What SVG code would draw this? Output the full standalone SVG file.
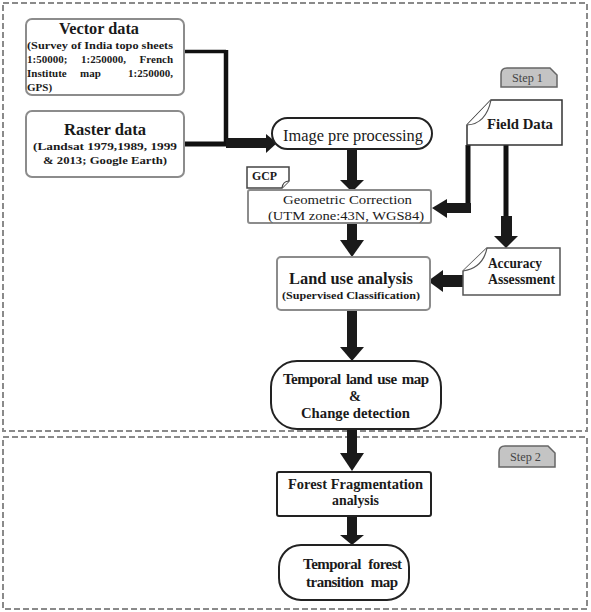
<svg xmlns="http://www.w3.org/2000/svg" width="591" height="612" viewBox="0 0 591 612">
<style>
text{font-family:"Liberation Serif","Times New Roman","DejaVu Serif",serif;fill:#1a1a1a}
.b{font-weight:bold}
.frame{fill:none;stroke:#8a8a8a;stroke-width:2;stroke-dasharray:6 3}
.gbox{fill:#fff;stroke:#8c8c8c;stroke-width:2}
.kbox{fill:#fff;stroke:#222;stroke-width:2}
.line{fill:none;stroke:#111}
.head{fill:#1a1a1a}
.tag{fill:#c4c4c4;stroke:#666;stroke-width:1.5}
.tagt{font-size:13px;fill:#444}
.s{font-size:11px;font-weight:bold}
</style>

<g id="frames">
  <rect class="frame" x="3" y="3" width="584" height="428"/>
  <rect class="frame" x="3" y="437" width="584" height="172"/>
</g>

<g id="step1">
  <path class="tag" d="M501,87 L501,74 Q501,68 507,68 L550,68 L557,75 L557,87 Z"/>
  <text class="tagt" x="512" y="82" textLength="31" lengthAdjust="spacingAndGlyphs">Step 1</text>
</g>
<g id="step2">
  <path class="tag" d="M499,467 L499,452 Q499,446 505,446 L548,446 L555,453 L555,467 Z"/>
  <text class="tagt" x="510" y="461" textLength="31" lengthAdjust="spacingAndGlyphs">Step 2</text>
</g>

<g id="connectors">
  <path class="line" d="M184,51.5 L226,51.5" stroke-width="3.5"/>
  <path class="line" d="M226,50 L226,146" stroke-width="4.5"/>
  <path class="line" d="M184,144 L228,144" stroke-width="5"/>
  <rect class="head" x="226" y="138" width="42" height="10"/>
  <polygon class="head" points="266,134 277,143 266,153"/>
  <rect class="head" x="347" y="149" width="10" height="32"/>
  <polygon class="head" points="340,180 364,180 352,192"/>
  <path class="line" d="M468,145 L468,211" stroke-width="5"/>
  <rect class="head" x="445" y="203" width="26" height="10"/>
  <polygon class="head" points="447,199 447,218 432,208"/>
  <path class="line" d="M506,145 L506,218" stroke-width="5"/>
  <rect class="head" x="501" y="216" width="11" height="22"/>
  <polygon class="head" points="494,236 518,236 506,248"/>
  <rect class="head" x="347" y="223" width="10" height="19"/>
  <polygon class="head" points="340,240 364,240 352,257"/>
  <rect class="head" x="441" y="275" width="23" height="12"/>
  <polygon class="head" points="443,270 443,292 428,281"/>
  <rect class="head" x="347" y="310" width="10" height="39"/>
  <polygon class="head" points="340,347 364,347 352,361"/>
  <rect class="head" x="347" y="429" width="10" height="26"/>
  <polygon class="head" points="340,453 364,453 352,471"/>
  <rect class="head" x="347" y="516" width="10" height="21"/>
  <polygon class="head" points="340,535 364,535 352,545"/>
</g>

<g id="vector">
  <rect class="gbox" x="26" y="19" width="158" height="76" rx="6"/>
  <text class="b" x="59" y="34" font-size="17" textLength="80" lengthAdjust="spacingAndGlyphs">Vector data</text>
  <text class="s" x="27" y="49" textLength="146" lengthAdjust="spacingAndGlyphs">(Survey of India topo sheets</text>
  <text class="s" x="27" y="63">1:50000;</text>
  <text class="s" x="81" y="63">1:250000,</text>
  <text class="s" x="173" y="63" text-anchor="end">French</text>
  <text class="s" x="27" y="77">Institute</text>
  <text class="s" x="80" y="77">map</text>
  <text class="s" x="173" y="77" text-anchor="end">1:250000,</text>
  <text class="s" x="27" y="91">GPS)</text>
</g>

<g id="raster">
  <rect class="gbox" x="26" y="111" width="158" height="66" rx="6"/>
  <text class="b" x="64" y="135" font-size="17" textLength="82" lengthAdjust="spacingAndGlyphs">Raster data</text>
  <text class="b" x="33" y="150" font-size="11" textLength="144" lengthAdjust="spacingAndGlyphs">(Landsat 1979,1989, 1999</text>
  <text class="b" x="43" y="164" font-size="11" textLength="124" lengthAdjust="spacingAndGlyphs">&amp; 2013; Google Earth)</text>
</g>

<g id="image-pre">
  <rect class="kbox" x="272" y="118" width="160" height="31" rx="15.5" stroke-width="1.5"/>
  <text x="283" y="141" font-size="16" textLength="140" lengthAdjust="spacingAndGlyphs">Image pre processing</text>
</g>

<g id="gcp">
  <path d="M247,167 L289,167 L289,181 L282,188 L247,188 Z" fill="#fff" stroke="#444" stroke-width="1.5"/>
  <path d="M289,181 Q283,181 282,188" fill="#fff" stroke="#444" stroke-width="1.2"/>
  <text class="b" x="252" y="180" font-size="12" textLength="25" lengthAdjust="spacingAndGlyphs">GCP</text>
</g>

<g id="geometric">
  <rect class="gbox" x="248" y="190" width="183" height="33" rx="2" stroke-width="1.5"/>
  <text x="283" y="204" font-size="13.5" textLength="129" lengthAdjust="spacingAndGlyphs">Geometric Correction</text>
  <text x="268" y="220" font-size="13.5" textLength="156" lengthAdjust="spacingAndGlyphs">(UTM zone:43N, WGS84)</text>
</g>

<g id="field-data">
  <path d="M467,125 L491,100 L562,100 L562,145 L467,145 Z" fill="#fff" stroke="#333" stroke-width="1.5"/>
  <path d="M467,125 Q486,124 491,100" fill="#fff" stroke="#555" stroke-width="1.2"/>
  <text class="b" x="487" y="129" font-size="14" textLength="66" lengthAdjust="spacingAndGlyphs">Field Data</text>
</g>

<g id="accuracy">
  <path d="M463,271 L487,248 L560,248 L560,295 L463,295 Z" fill="#fff" stroke="#555" stroke-width="1.5"/>
  <path d="M463,271 Q483,268 487,248" fill="#fff" stroke="#555" stroke-width="1.2"/>
  <text class="b" x="488" y="268" font-size="14" textLength="54" lengthAdjust="spacingAndGlyphs">Accuracy</text>
  <text class="b" x="488" y="284" font-size="14" textLength="67" lengthAdjust="spacingAndGlyphs">Assessment</text>
</g>

<g id="land-use">
  <rect class="gbox" x="277" y="257" width="153" height="53" rx="4"/>
  <text class="b" x="289" y="284" font-size="17" textLength="124" lengthAdjust="spacingAndGlyphs">Land use analysis</text>
  <text class="b" x="282" y="299" font-size="10.5" textLength="138" lengthAdjust="spacingAndGlyphs">(Supervised Classification)</text>
</g>

<g id="temporal-land-use">
  <rect class="kbox" x="271" y="361" width="170" height="68" rx="26"/>
  <text class="b" x="283" y="384" font-size="15" textLength="146" lengthAdjust="spacing" word-spacing="2">Temporal  land use map</text>
  <text class="b" x="349" y="401" font-size="15" textLength="12" lengthAdjust="spacingAndGlyphs">&amp;</text>
  <text class="b" x="301" y="418" font-size="15" textLength="109" lengthAdjust="spacingAndGlyphs">Change detection</text>
</g>

<g id="forest-frag">
  <rect class="kbox" x="277" y="472" width="154" height="44" rx="2"/>
  <text class="b" x="288" y="489" font-size="15" textLength="135" lengthAdjust="spacingAndGlyphs">Forest Fragmentation</text>
  <text class="b" x="332" y="505" font-size="15" textLength="47" lengthAdjust="spacingAndGlyphs">analysis</text>
</g>

<g id="temporal-forest">
  <rect class="kbox" x="279" y="545" width="130" height="55" rx="22"/>
  <text class="b" x="303" y="569" font-size="15" textLength="99" lengthAdjust="spacing" word-spacing="4">Temporal  forest</text>
  <text class="b" x="306" y="587" font-size="15" textLength="92" lengthAdjust="spacing" word-spacing="4">transition  map</text>
</g>
</svg>
